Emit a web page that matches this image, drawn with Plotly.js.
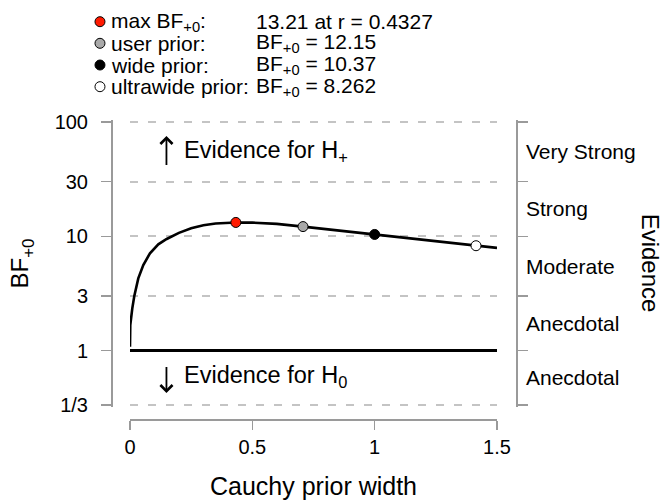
<!DOCTYPE html>
<html>
<head>
<meta charset="utf-8">
<script src="https://cdn.plot.ly/plotly-3.0.1.min.js"></script>
<style>html,body{margin:0;padding:0;background:#fff;}#chart{width:667px;height:501px;}</style>
</head>
<body>
<div id="chart"></div>
<script>
// ---- data ----
const priorWidth  = [0, 0.0012, 0.0094, 0.0176, 0.0339, 0.0544, 0.0817, 0.1157, 0.15, 0.17, 0.2, 0.25, 0.3, 0.35, 0.4, 0.4327, 0.5, 0.6, 0.7071, 0.85, 1.0, 1.2, 1.4142, 1.5];
const bayesFactor = [1.08, 1.67, 2.34, 3.0, 4.28, 5.6, 7.1, 8.5, 9.46, 10.0, 10.7, 11.75, 12.5, 12.94, 13.17, 13.21, 13.16, 12.82, 12.15, 11.25, 10.37, 9.29, 8.262, 7.91];

const pointNames  = ["max BF<sub>+0</sub>:", "user prior:", "wide prior:", "ultrawide prior:"];
const pointR      = [0.4327, 0.7071, 1, 1.4142];
const pointBF     = [13.21, 12.15, 10.37, 8.262];
const pointColors = ["#ff1a00", "#a9a9a9", "#000000", "#ffffff"];

const xTickVals = [0, 0.5, 1, 1.5];
const xTickText = ["0", "0.5", "1", "1.5"];
const yTickVals = [1/3, 1, 3, 10, 30, 100];
const yTickText = ["1/3", "1", "3", "10", "30", "100"];

const evidenceBounds = [1/3, 1, 3, 10, 30, 100];
const evidenceLabels = ["Anecdotal", "Anecdotal", "Moderate", "Strong", "Very Strong"];

// ---- build ----
const FONT = "Liberation Sans, Arial, Helvetica, sans-serif";
const axisGrey = "#9a9a9a";
const pxPerDecade = 114.25;
const yRange = [Math.log10(1/3) - 2 / pxPerDecade, 2 + 2 / pxPerDecade];

const traces = [
  {x: [0, 1.5], y: [1, 1], xaxis: "x", yaxis: "y2", mode: "lines",
   line: {color: "#000", width: 2.8}, hoverinfo: "skip"},
  {x: priorWidth, y: bayesFactor, mode: "lines",
   line: {color: "#000", width: 2.6}, hoverinfo: "skip"},
  {x: pointR, y: pointBF, mode: "markers", cliponaxis: false,
   marker: {color: pointColors, size: 10, line: {color: "#000", width: 1}}, hoverinfo: "skip"}
];

const annotations = [];
// right evidence categories
for (let i = 0; i < evidenceLabels.length; i++) {
  const mid = (Math.log10(evidenceBounds[i]) + Math.log10(evidenceBounds[i + 1])) / 2;
  annotations.push({xref: "paper", yref: "y", x: 1, y: mid, xanchor: "left", yanchor: "middle",
    xshift: 8, text: evidenceLabels[i], showarrow: false, font: {size: 21, family: FONT, color: "#000"}});
}
annotations.push({xref: "paper", yref: "paper", x: 1.333, y: 0.52, textangle: 90,
  xanchor: "center", yanchor: "middle",
  text: "Evidence", showarrow: false, font: {size: 24, family: FONT, color: "#000"}});

// evidence direction arrows and texts
annotations.push({xref: "x", yref: "y", x: 0.149, y: 1.8775, text: " ", showarrow: true,
  ax: 0, ay: 31, arrowhead: 4, arrowsize: 1.3, arrowwidth: 1.8, arrowcolor: "#000",
  standoff: 0, startstandoff: 0, font: {size: 1}});
annotations.push({xref: "x", yref: "y", x: 0.213, y: Math.log10(55.7), text: "Evidence for H<sub>+</sub>",
  showarrow: false, xanchor: "left", yanchor: "middle", font: {size: 23.5, family: FONT, color: "#000"}});
annotations.push({xref: "x", yref: "y", x: 0.149, y: -0.372, text: " ", showarrow: true,
  ax: 0, ay: -28, arrowhead: 4, arrowsize: 1.3, arrowwidth: 1.8, arrowcolor: "#000",
  standoff: 0, startstandoff: 0, font: {size: 1}});
annotations.push({xref: "x", yref: "y", x: 0.213, y: Math.log10(0.59), text: "Evidence for H<sub>0</sub>",
  showarrow: false, xanchor: "left", yanchor: "middle", font: {size: 23.5, family: FONT, color: "#000"}});

// top legend
const shapes = [];
const rowY = [1.3288, 1.2565, 1.1839, 1.1114];
for (let i = 0; i < pointNames.length; i++) {
  const valueText = i === 0
    ? pointBF[i] + " at r = " + pointR[i]
    : "BF<sub>+0</sub> = " + pointBF[i];
  annotations.push({xref: "paper", yref: "paper", x: -0.006, y: rowY[i], xanchor: "left", yanchor: "middle",
    text: pointNames[i], showarrow: false, font: {size: 21, family: FONT, color: "#000"}});
  annotations.push({xref: "paper", yref: "paper", x: 0.3536, y: rowY[i], xanchor: "left", yanchor: "middle",
    text: valueText, showarrow: false, font: {size: 21, family: FONT, color: "#000"}});
  shapes.push({type: "circle", xref: "paper", yref: "paper", xsizemode: "pixel", ysizemode: "pixel",
    xanchor: -0.0272, yanchor: rowY[i], x0: -5, x1: 5, y0: -5, y1: 5,
    fillcolor: pointColors[i], line: {color: "#000", width: 1}});
}

const layout = {
  width: 667, height: 501, autosize: false,
  margin: {l: 111, r: 151, t: 120, b: 82, pad: 0},
  paper_bgcolor: "#fff", plot_bgcolor: "#fff",
  showlegend: false,
  font: {family: FONT, color: "#000"},
  xaxis: {
    domain: [0.0469, 0.9531], range: [0, 1.5], anchor: "free", position: 0,
    showline: true, linecolor: axisGrey, linewidth: 1.5,
    ticks: "outside", ticklen: 9, tickwidth: 1.5, tickcolor: axisGrey,
    tickvals: xTickVals, ticktext: xTickText, tickfont: {size: 20, family: FONT, color: "#000"},
    showgrid: false, zeroline: false,
    title: {text: "Cauchy prior width", font: {size: 25, family: FONT, color: "#000"}, standoff: 21}
  },
  yaxis: {
    type: "log", range: yRange, domain: [0.0401, 1], anchor: "free", position: 0,
    showline: true, linecolor: axisGrey, linewidth: 1.5,
    ticks: "outside", ticklen: 10, tickwidth: 1.5, tickcolor: axisGrey, ticklabelstandoff: 9,
    tickvals: yTickVals, ticktext: yTickText, tickfont: {size: 20, family: FONT, color: "#000"},
    showgrid: true, gridcolor: "#c4c4c4", gridwidth: 2, griddash: "8px,10px", zeroline: false,
    title: {text: "BF<sub>+0</sub>", font: {size: 24, family: FONT, color: "#000"}, standoff: 17}
  },
  yaxis2: {
    type: "log", range: yRange, overlaying: "y", side: "right", anchor: "free", position: 1,
    showline: true, linecolor: axisGrey, linewidth: 1.5,
    ticks: "outside", ticklen: 10, tickwidth: 1.5, tickcolor: axisGrey,
    tickvals: yTickVals, showticklabels: false, showgrid: false, zeroline: false
  },
  annotations: annotations,
  shapes: shapes
};

Plotly.newPlot("chart", traces, layout, {displayModeBar: false, staticPlot: true});
</script>
</body>
</html>
